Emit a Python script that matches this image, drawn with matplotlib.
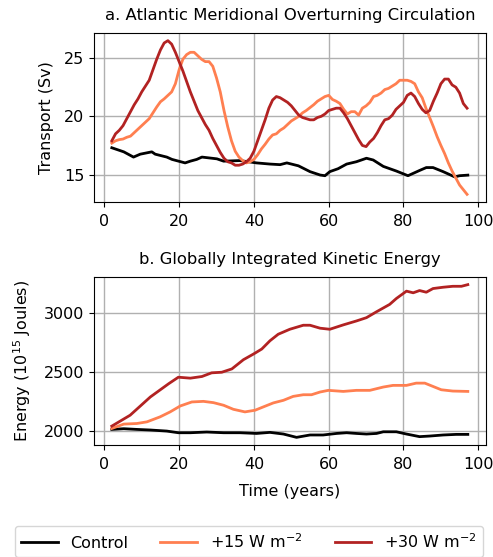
import matplotlib
matplotlib.use("Agg")
import matplotlib.pyplot as plt

# AMOC transport (Sv)
amoc_years = list(range(2, 98))
amoc_plus30 = [
    17.9, 18.5, 18.8, 19.2, 19.8, 20.4, 21.0, 21.5, 22.1, 22.6,
    23.1, 24.0, 24.9, 25.7, 26.3, 26.5, 26.2, 25.5, 24.7, 23.9,
    23.0, 22.1, 21.3, 20.5, 19.9, 19.3, 18.8, 18.1, 17.5, 16.9,
    16.4, 16.1, 16.0, 15.8, 15.8, 15.9, 16.1, 16.4, 17.0, 17.9,
    18.8, 19.7, 20.7, 21.4, 21.7, 21.6, 21.4, 21.2, 20.9, 20.5,
    20.1, 19.9, 19.8, 19.7, 19.7, 19.9, 20.0, 20.2, 20.5, 20.6,
    20.7, 20.7, 20.3, 19.8, 19.2, 18.6, 18.0, 17.5, 17.4, 17.8,
    18.1, 18.6, 19.2, 19.7, 19.8, 20.1, 20.6, 20.9, 21.2, 21.8,
    22.0, 21.7, 21.1, 20.6, 20.3, 20.5, 21.3, 22.0, 22.8, 23.2,
    23.2, 22.7, 22.5, 22.0, 21.1, 20.7,
]
amoc_plus15 = [
    17.7, 17.9, 18.0, 18.05, 18.2, 18.3, 18.6, 18.9, 19.2, 19.5,
    19.8, 20.3, 20.8, 21.25, 21.5, 21.8, 22.1, 22.8, 24.0, 24.9,
    25.3, 25.5, 25.5, 25.2, 24.9, 24.7, 24.7, 24.3, 23.3, 22.1,
    20.5, 19.1, 17.9, 17.0, 16.5, 16.2, 16.0, 16.1, 16.3, 16.7,
    17.2, 17.6, 18.05, 18.4, 18.5, 18.8, 19.0, 19.3, 19.6, 19.8,
    20.0, 20.3, 20.5, 20.75, 21.0, 21.3, 21.5, 21.7, 21.8, 21.45,
    21.3, 21.1, 20.6, 20.2, 20.4, 20.4, 20.1, 20.7, 20.9, 21.2,
    21.7, 21.8, 22.0, 22.3, 22.4, 22.6, 22.8, 23.1, 23.1, 23.1,
    23.0, 22.8, 22.1, 21.6, 20.7, 19.9, 19.1, 18.25, 17.5, 16.8,
    16.0, 15.3, 14.7, 14.1, 13.7, 13.3,
]
amoc_ctrl_years = [2, 5.2, 7.8, 9.6, 12.7, 13.6, 16.7, 18.1, 21.6, 23, 24.7,
                   26.1, 30.1, 31.9, 36.3, 40.7, 44.3, 47, 48.8, 51.9, 55,
                   57.7, 59, 60.3, 62.5, 64.8, 67.4, 70.1, 71.9, 74.6, 78.1,
                   81.2, 84.3, 86.1, 87.9, 90.6, 93.7, 95, 97.2]
amoc_ctrl = [17.3, 16.95, 16.5, 16.75, 16.95, 16.75, 16.5, 16.3, 16.0, 16.15,
             16.3, 16.5, 16.35, 16.15, 16.2, 16.0, 15.9, 15.85, 16.0, 15.75,
             15.25, 14.96, 14.9, 15.25, 15.5, 15.9, 16.1, 16.4, 16.25, 15.7,
             15.3, 14.9, 15.35, 15.6, 15.6, 15.25, 14.8, 14.9, 14.95]

# globally integrated kinetic energy (10^15 J)
ke30_years = [2, 6.9, 12.3, 17.2, 19.8, 23, 26.1, 28.7, 31.4, 34.1, 37.2, 39.9,
              42.1, 44.3, 46.5, 49.6, 53.2, 55, 57.7, 60.3, 63.9, 67.4, 70.1,
              72.8, 76.3, 78.1, 80.8, 82.6, 84.3, 86.1, 87.9, 90.6, 93.2, 95.5,
              97.2]
ke_plus30 = [2042, 2134, 2288, 2400, 2455, 2447, 2461, 2492, 2497, 2525, 2603,
             2651, 2693, 2763, 2818, 2860, 2894, 2894, 2869, 2860, 2897, 2930,
             2958, 3008, 3070, 3120, 3182, 3168, 3187, 3173, 3204, 3215, 3223,
             3223, 3237]
ke15_years = [2, 5.2, 8.7, 11.4, 14.9, 17.6, 20.3, 23.4, 26.5, 29.2, 31.9, 34.5,
              37.6, 40.3, 42.5, 45.2, 47.9, 50.5, 53.2, 55.4, 57.7, 59.9, 63.9,
              67.4, 71, 74.6, 77.2, 80.8, 83.4, 85.7, 87.9, 90.1, 93.2, 97.2]
ke_plus15 = [2022, 2059, 2064, 2078, 2120, 2162, 2212, 2246, 2251, 2240, 2218,
             2184, 2162, 2176, 2204, 2238, 2260, 2293, 2307, 2307, 2330, 2344,
             2335, 2344, 2344, 2372, 2386, 2386, 2405, 2405, 2377, 2349, 2338,
             2335]
ke_ctrl_years = [2, 5.2, 8.7, 12.3, 16.7, 19.8, 23, 27.4, 31.9, 36.3, 40.7,
                 44.3, 47.9, 51.4, 55, 58.5, 62.1, 64.8, 67.4, 70.1, 72.8, 74.6,
                 78.1, 80.8, 84.3, 87, 90.6, 94.1, 97.2]
ke_ctrl = [2014, 2020, 2014, 2009, 2000, 1986, 1986, 1992, 1986, 1986, 1980,
           1989, 1975, 1947, 1967, 1967, 1980, 1986, 1980, 1975, 1980, 1994,
           1994, 1975, 1953, 1958, 1967, 1972, 1972]

labels = ["Control", "+15 W m$^{-2}$", "+30 W m$^{-2}$"]
colors = ["black", "#ff7f50", "#b22222"]

plt.rcParams["font.size"] = 11.5

fig = plt.figure(figsize=(4.93, 5.57), dpi=100)
ax1 = fig.add_axes([0.1907, 0.6373, 0.7943, 0.3035])
ax2 = fig.add_axes([0.1907, 0.2011, 0.7943, 0.3016])

ax1.plot(amoc_ctrl_years, amoc_ctrl, color=colors[0], lw=2, label=labels[0])
ax1.plot(amoc_years, amoc_plus15, color=colors[1], lw=2, label=labels[1])
ax1.plot(amoc_years, amoc_plus30, color=colors[2], lw=2, label=labels[2])
ax1.set_ylabel("Transport (Sv)", labelpad=7.5)
ax1.set_title("a. Atlantic Meridional Overturning Circulation", fontsize=11.8, pad=9)
ax1.set_yticks([15, 20, 25])

ax2.plot(ke_ctrl_years, ke_ctrl, color=colors[0], lw=2)
ax2.plot(ke15_years, ke_plus15, color=colors[1], lw=2)
ax2.plot(ke30_years, ke_plus30, color=colors[2], lw=2)
ax2.set_ylabel("Energy (10$^{15}$ Joules)", labelpad=7.5)
ax2.set_xlabel("Time (years)", labelpad=9)
ax2.set_title("b. Globally Integrated Kinetic Energy", fontsize=11.8, pad=9)
ax2.set_yticks([2000, 2500, 3000])

for ax in (ax1, ax2):
    ax.set_xticks([0, 20, 40, 60, 80, 100])
    ax.tick_params(axis="x", pad=5)
    ax.grid(True, color="#b0b0b0", lw=1)
    ax.set_axisbelow(True)

handles, _ = ax1.get_legend_handles_labels()
fig.legend(handles, labels, loc="upper center", bbox_to_anchor=(0.505, 0.0557),
           ncol=3, fontsize=11.5, handlelength=2.3, columnspacing=2.0,
           borderaxespad=0, frameon=True)

fig.savefig("out.png", dpi=100)
